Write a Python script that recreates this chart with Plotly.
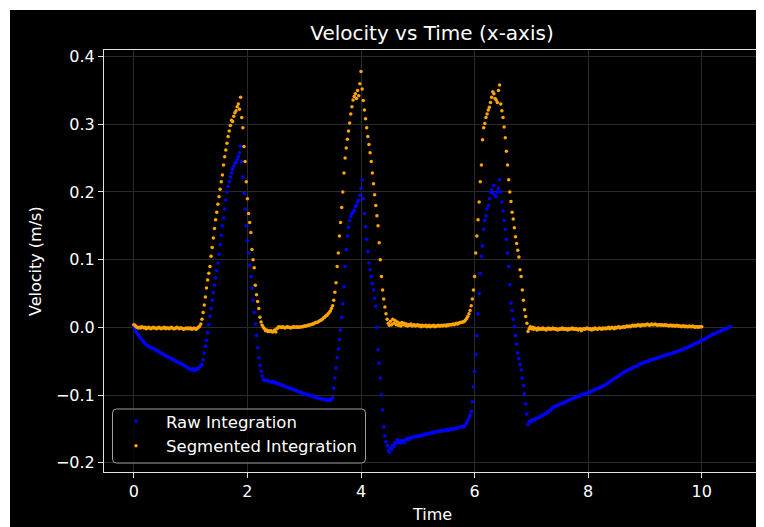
import numpy as np
import plotly.graph_objects as go

DT = 0.02

# Raw Integration velocity (m/s), sampled every 0.02 s from t = 0 to 10.5
raw_velocity = [
    0.002, -0.003, -0.006, -0.009, -0.011, -0.014, -0.016, -0.018, -0.020, -0.022,
    -0.024, -0.026, -0.027, -0.028, -0.029, -0.030, -0.031, -0.031, -0.032, -0.033,
    -0.034, -0.035, -0.036, -0.037, -0.038, -0.039, -0.040, -0.041, -0.042, -0.043,
    -0.044, -0.045, -0.045, -0.046, -0.047, -0.048, -0.049, -0.050, -0.051, -0.052,
    -0.052, -0.053, -0.054, -0.055, -0.056, -0.057, -0.058, -0.059, -0.060, -0.061,
    -0.062, -0.063, -0.061, -0.064, -0.062, -0.061, -0.062, -0.060, -0.058, -0.057,
    -0.055, -0.048, -0.038, -0.028, -0.019, -0.008, 0.004, 0.016, 0.028, 0.040,
    0.051, 0.062, 0.073, 0.084, 0.095, 0.108, 0.122, 0.136, 0.150, 0.162,
    0.175, 0.188, 0.200, 0.208, 0.215, 0.222, 0.228, 0.233, 0.238, 0.242,
    0.244, 0.248, 0.252, 0.258, 0.268, 0.245, 0.222, 0.198, 0.175, 0.150,
    0.128, 0.110, 0.092, 0.075, 0.058, 0.040, 0.022, 0.005, -0.012, -0.030,
    -0.045, -0.056, -0.065, -0.072, -0.077, -0.078, -0.079, -0.078, -0.079, -0.080,
    -0.080, -0.080, -0.081, -0.080, -0.082, -0.082, -0.083, -0.083, -0.084, -0.084,
    -0.085, -0.086, -0.086, -0.087, -0.088, -0.089, -0.089, -0.090, -0.090, -0.091,
    -0.092, -0.092, -0.093, -0.094, -0.094, -0.095, -0.096, -0.096, -0.097, -0.098,
    -0.098, -0.099, -0.099, -0.100, -0.100, -0.101, -0.101, -0.102, -0.102, -0.103,
    -0.103, -0.104, -0.104, -0.105, -0.105, -0.106, -0.106, -0.106, -0.107, -0.107,
    -0.107, -0.108, -0.107, -0.108, -0.106, -0.104, -0.090, -0.075, -0.060, -0.045,
    -0.032, -0.018, -0.004, 0.015, 0.035, 0.060, 0.090, 0.115, 0.135, 0.148,
    0.158, 0.164, 0.168, 0.170, 0.173, 0.178, 0.180, 0.185, 0.188, 0.195,
    0.205, 0.218, 0.190, 0.168, 0.149, 0.130, 0.112, 0.095, 0.085, 0.075,
    0.065, 0.055, 0.043, 0.031, 0.000, -0.033, -0.053, -0.075, -0.100, -0.122,
    -0.147, -0.160, -0.169, -0.175, -0.182, -0.184, -0.178, -0.180, -0.174, -0.176,
    -0.170, -0.172, -0.166, -0.170, -0.168, -0.171, -0.167, -0.168, -0.170, -0.166,
    -0.165, -0.166, -0.164, -0.165, -0.163, -0.163, -0.162, -0.161, -0.162, -0.161,
    -0.161, -0.160, -0.161, -0.160, -0.159, -0.159, -0.158, -0.158, -0.157, -0.158,
    -0.157, -0.156, -0.156, -0.155, -0.156, -0.155, -0.154, -0.154, -0.154, -0.153,
    -0.153, -0.153, -0.152, -0.153, -0.152, -0.152, -0.151, -0.152, -0.151, -0.150,
    -0.151, -0.150, -0.150, -0.149, -0.149, -0.148, -0.148, -0.148, -0.147, -0.147,
    -0.147, -0.146, -0.144, -0.141, -0.138, -0.134, -0.130, -0.124, -0.110, -0.088,
    -0.065, -0.040, -0.012, 0.020, 0.050, 0.080, 0.105, 0.120, 0.145, 0.158,
    0.165, 0.175, 0.180, 0.190, 0.200, 0.203, 0.198, 0.210, 0.195, 0.193,
    0.200, 0.205, 0.218, 0.200, 0.185, 0.172, 0.158, 0.145, 0.130, 0.110,
    0.090, 0.063, 0.036, 0.025, 0.012, 0.001, -0.012, -0.025, -0.038, -0.046,
    -0.055, -0.063, -0.075, -0.086, -0.098, -0.113, -0.128, -0.144, -0.140, -0.138,
    -0.139, -0.137, -0.136, -0.137, -0.135, -0.134, -0.134, -0.133, -0.131, -0.131,
    -0.130, -0.129, -0.128, -0.127, -0.125, -0.125, -0.123, -0.122, -0.120, -0.119,
    -0.117, -0.117, -0.116, -0.115, -0.115, -0.114, -0.113, -0.112, -0.112, -0.111,
    -0.110, -0.110, -0.108, -0.108, -0.107, -0.106, -0.105, -0.105, -0.104, -0.104,
    -0.103, -0.102, -0.102, -0.100, -0.100, -0.099, -0.099, -0.098, -0.098, -0.097,
    -0.097, -0.096, -0.095, -0.094, -0.094, -0.093, -0.092, -0.091, -0.091, -0.090,
    -0.089, -0.089, -0.087, -0.087, -0.086, -0.085, -0.084, -0.083, -0.082, -0.080,
    -0.079, -0.078, -0.077, -0.076, -0.075, -0.074, -0.073, -0.071, -0.070, -0.069,
    -0.068, -0.067, -0.066, -0.065, -0.064, -0.063, -0.062, -0.062, -0.061, -0.060,
    -0.059, -0.058, -0.058, -0.057, -0.056, -0.055, -0.054, -0.053, -0.053, -0.052,
    -0.051, -0.051, -0.050, -0.050, -0.049, -0.048, -0.048, -0.047, -0.047, -0.046,
    -0.046, -0.045, -0.045, -0.044, -0.043, -0.043, -0.042, -0.042, -0.041, -0.041,
    -0.040, -0.040, -0.039, -0.039, -0.038, -0.038, -0.037, -0.036, -0.036, -0.035,
    -0.035, -0.034, -0.033, -0.033, -0.032, -0.031, -0.031, -0.030, -0.029, -0.028,
    -0.028, -0.027, -0.026, -0.025, -0.024, -0.024, -0.023, -0.022, -0.021, -0.020,
    -0.019, -0.018, -0.018, -0.017, -0.016, -0.015, -0.014, -0.013, -0.012, -0.011,
    -0.010, -0.010, -0.009, -0.008, -0.007, -0.006, -0.006, -0.005, -0.004, -0.004,
    -0.003, -0.002, -0.002, -0.001, 0.000, 0.001,
]

# Segmented Integration velocity (m/s), sampled every 0.02 s from t = 0 to 10.0
seg_velocity = [
    0.004, 0.003, 0.001, 0.000, -0.001, 0.000, -0.001, 0.001, 0.000, -0.001,
    0.000, -0.002, -0.001, 0.000, -0.001, -0.002, -0.001, 0.000, -0.001, -0.001,
    -0.002, -0.001, 0.000, -0.001, -0.002, -0.001, -0.001, 0.000, -0.002, -0.001,
    -0.001, -0.002, -0.001, 0.000, -0.001, -0.002, -0.002, -0.001, 0.000, -0.001,
    -0.002, -0.001, -0.001, -0.002, -0.003, -0.002, -0.001, -0.002, -0.001, -0.002,
    -0.001, -0.003, -0.002, -0.001, -0.002, -0.003, -0.001, 0.000, 0.002, 0.005,
    0.012, 0.022, 0.033, 0.045, 0.058, 0.070, 0.080, 0.090, 0.105, 0.118,
    0.132, 0.146, 0.159, 0.170, 0.182, 0.193, 0.204, 0.215, 0.225, 0.240,
    0.252, 0.262, 0.272, 0.282, 0.290, 0.298, 0.306, 0.304, 0.312, 0.317,
    0.320, 0.326, 0.330, 0.322, 0.340, 0.310, 0.295, 0.267, 0.245, 0.215,
    0.190, 0.168, 0.155, 0.140, 0.115, 0.100, 0.088, 0.062, 0.048, 0.038,
    0.028, 0.015, 0.008, 0.003, 0.000, -0.002, -0.005, -0.004, -0.006, -0.005,
    -0.006, -0.005, -0.007, -0.006, -0.004, -0.007, -0.002, 0.000, 0.001, 0.000,
    0.000, 0.001, 0.000, -0.001, 0.000, 0.001, 0.000, 0.000, -0.001, 0.000,
    0.000, 0.001, 0.000, 0.000, 0.001, 0.000, 0.000, 0.001, 0.001, 0.001,
    0.002, 0.002, 0.002, 0.003, 0.003, 0.004, 0.004, 0.005, 0.005, 0.006,
    0.007, 0.007, 0.008, 0.009, 0.010, 0.011, 0.012, 0.014, 0.015, 0.017,
    0.018, 0.020, 0.022, 0.024, 0.028, 0.032, 0.040, 0.052, 0.066, 0.090,
    0.110, 0.135, 0.155, 0.177, 0.200, 0.228, 0.250, 0.265, 0.278, 0.290,
    0.302, 0.315, 0.326, 0.336, 0.341, 0.345, 0.338, 0.350, 0.342, 0.360,
    0.378, 0.352, 0.335, 0.321, 0.308, 0.295, 0.282, 0.270, 0.258, 0.245,
    0.228, 0.212, 0.196, 0.180, 0.165, 0.150, 0.125, 0.100, 0.075, 0.055,
    0.042, 0.030, 0.020, 0.012, 0.006, 0.003, 0.009, 0.004, 0.012, 0.006,
    0.010, 0.004, 0.008, 0.003, 0.006, 0.002, 0.007, 0.004, 0.006, 0.003,
    0.005, 0.002, 0.004, 0.003, 0.005, 0.002, 0.003, 0.004, 0.002, 0.003,
    0.004, 0.002, 0.003, 0.001, 0.003, 0.002, 0.002, 0.003, 0.001, 0.002,
    0.003, 0.001, 0.002, 0.002, 0.003, 0.001, 0.002, 0.002, 0.003, 0.002,
    0.002, 0.003, 0.002, 0.003, 0.003, 0.002, 0.004, 0.003, 0.004, 0.004,
    0.004, 0.005, 0.004, 0.005, 0.006, 0.005, 0.006, 0.007, 0.007, 0.008,
    0.008, 0.009, 0.011, 0.013, 0.016, 0.020, 0.025, 0.032, 0.042, 0.055,
    0.075, 0.110, 0.135, 0.159, 0.185, 0.215, 0.240, 0.277, 0.295, 0.301,
    0.310, 0.315, 0.321, 0.325, 0.332, 0.340, 0.348, 0.345, 0.338, 0.336,
    0.332, 0.350, 0.358, 0.330, 0.320, 0.310, 0.296, 0.280, 0.260, 0.240,
    0.218, 0.200, 0.186, 0.170, 0.160, 0.147, 0.134, 0.124, 0.114, 0.104,
    0.085, 0.075, 0.055, 0.040, 0.026, 0.016, 0.006, -0.006, -0.002, 0.001,
    -0.002, 0.000, -0.003, -0.001, -0.002, -0.004, -0.001, -0.003, -0.002, -0.003,
    -0.001, -0.003, -0.002, -0.004, -0.002, -0.001, -0.003, -0.002, -0.003, -0.001,
    -0.002, -0.003, -0.002, -0.004, -0.003, -0.002, -0.003, -0.001, -0.003, -0.002,
    -0.003, -0.002, -0.004, -0.002, -0.003, -0.002, -0.001, -0.003, -0.002, -0.003,
    -0.002, -0.004, -0.003, -0.002, -0.005, -0.003, -0.002, -0.003, -0.002, -0.001,
    -0.002, -0.003, -0.002, -0.004, -0.002, -0.003, -0.001, -0.002, -0.003, -0.002,
    -0.001, -0.002, -0.003, -0.001, -0.002, -0.001, -0.002, -0.001, 0.000, -0.002,
    -0.001, 0.000, -0.001, -0.002, 0.000, -0.001, 0.000, 0.001, -0.001, 0.000,
    0.000, 0.001, 0.000, 0.001, 0.002, 0.001, 0.002, 0.001, 0.002, 0.003,
    0.002, 0.003, 0.002, 0.003, 0.004, 0.003, 0.002, 0.004, 0.003, 0.004,
    0.003, 0.004, 0.005, 0.004, 0.003, 0.004, 0.005, 0.004, 0.004, 0.005,
    0.004, 0.003, 0.004, 0.004, 0.003, 0.004, 0.003, 0.003, 0.004, 0.003,
    0.003, 0.002, 0.003, 0.003, 0.002, 0.003, 0.002, 0.002, 0.003, 0.002,
    0.002, 0.002, 0.001, 0.002, 0.002, 0.001, 0.002, 0.001, 0.001, 0.002,
    0.001, 0.001, 0.002, 0.001, 0.000, 0.001, 0.001, 0.000, 0.001, 0.001,
    0.001,
]

raw_time = np.round(np.arange(len(raw_velocity)) * DT, 3)
seg_time = np.round(np.arange(len(seg_velocity)) * DT, 3)

x_ticks = [0, 2, 4, 6, 8, 10]
y_ticks = [-0.2, -0.1, 0.0, 0.1, 0.2, 0.3, 0.4]

FONT = "DejaVu Sans"
OFF = 8                      # page margin added by the browser
W, H = 764 - OFF, 527 - OFF  # figure size
# plot area in page pixels: left 104, right 760, top 50, bottom 472
L, T = 104 - OFF, 50 - OFF
R, B = W - (760 - OFF), H - (472 - OFF)
PW, PH = W - L - R, H - T - B


def px_x(p):
    """page pixel x -> paper x"""
    return (p - OFF - L) / PW


def px_y(p):
    """page pixel y -> paper y"""
    return (H - B - (p - OFF)) / PH


fig = go.Figure()
fig.add_trace(go.Scatter(
    x=raw_time, y=raw_velocity, mode="markers", name="Raw Integration",
    marker=dict(color="blue", size=3.5, line=dict(width=0)),
))
fig.add_trace(go.Scatter(
    x=seg_time, y=seg_velocity, mode="markers", name="Segmented Integration",
    marker=dict(color="orange", size=3.5, line=dict(width=0)),
))

axis_common = dict(
    showgrid=True, gridcolor="#2a2a2a", gridwidth=1,
    showline=True, linecolor="#e0e0e0", linewidth=1, mirror=True,
    ticks="outside", ticklen=5, tickwidth=1, tickcolor="#e0e0e0",
    tickfont=dict(family=FONT, size=16, color="white"),
    zeroline=False,
)

# rounded legend frame
x0, x1 = px_x(112.5), px_x(365.5)
y0, y1 = px_y(463), px_y(409)
rx, ry = 4 / PW, 4 / PH
frame = (f"M {x0+rx},{y0} L {x1-rx},{y0} Q {x1},{y0} {x1},{y0+ry} "
         f"L {x1},{y1-ry} Q {x1},{y1} {x1-rx},{y1} L {x0+rx},{y1} "
         f"Q {x0},{y1} {x0},{y1-ry} L {x0},{y0+ry} Q {x0},{y0} {x0+rx},{y0} Z")

fig.update_layout(
    width=W, height=H,
    margin=dict(l=L, r=R, t=T, b=B),
    paper_bgcolor="black", plot_bgcolor="black",
    font=dict(family=FONT, color="white"),
    title=dict(text="Velocity vs Time (x-axis)", x=0.5, xanchor="center",
               xref="paper", y=1 - (33 - OFF) / H, yanchor="middle",
               font=dict(family=FONT, size=20, color="white")),
    xaxis=dict(range=[-0.525, 11.025], tickvals=x_ticks,
               ticktext=[str(v) for v in x_ticks], **axis_common),
    yaxis=dict(range=[-0.2137, 0.4097], tickvals=y_ticks,
               tickformat=".1f", **axis_common),
    showlegend=True,
    legend=dict(x=px_x(106), y=px_y(404), xanchor="left", yanchor="top",
                bgcolor="rgba(0,0,0,0)", borderwidth=0, itemwidth=50,
                font=dict(family=FONT, size=16.5, color="white")),
    shapes=[
        dict(type="path", xref="paper", yref="paper", path=frame,
             line=dict(color="#a0a0a0", width=1), fillcolor="rgba(0,0,0,0.8)",
             layer="above"),
        dict(type="rect", xref="paper", yref="paper", x0=px_x(OFF), x1=px_x(10),
             y0=px_y(527), y1=px_y(OFF), fillcolor="white", line=dict(width=0),
             layer="above"),
        dict(type="rect", xref="paper", yref="paper", x0=px_x(OFF), x1=px_x(764),
             y0=px_y(10), y1=px_y(OFF), fillcolor="white", line=dict(width=0),
             layer="above"),
    ],
    annotations=[
        dict(text="Time", xref="paper", yref="paper", x=0.5, y=px_y(514),
             xanchor="center", yanchor="middle", showarrow=False,
             font=dict(family=FONT, size=16, color="white")),
        dict(text="Velocity (m/s)", xref="paper", yref="paper", x=px_x(35),
             y=0.5, xanchor="center", yanchor="middle", showarrow=False,
             textangle=-90, font=dict(family=FONT, size=16, color="white")),
    ],
)

fig.write_html("out.html")
